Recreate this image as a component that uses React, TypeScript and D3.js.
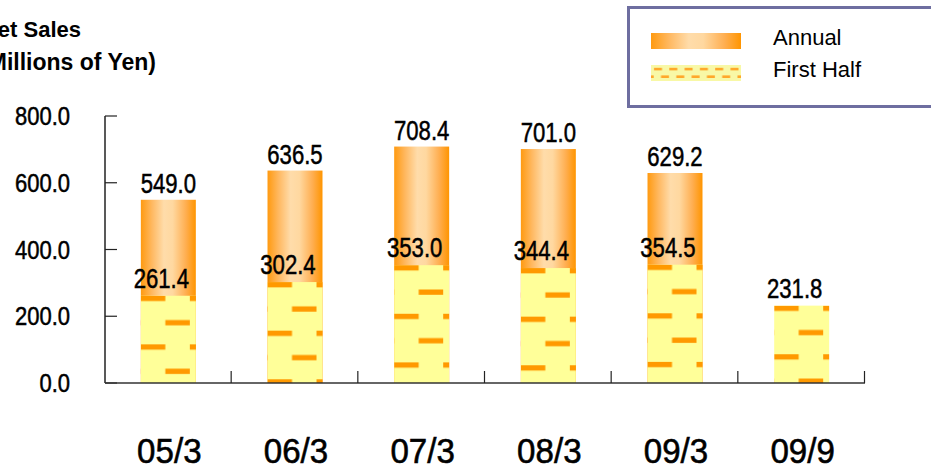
import React from "react";
import * as d3 from "d3";

const categories = ["05/3", "06/3", "07/3", "08/3", "09/3", "09/9"];
const annual: (number | null)[] = [549.0, 636.5, 708.4, 701.0, 629.2, null];
const firstHalf = [261.4, 302.4, 353.0, 344.4, 354.5, 231.8];
const yTicks = [0, 200, 400, 600, 800];
const titleLines = ["Net Sales", "(Millions of Yen)"];
const legendLabels = ["Annual", "First Half"];

const W = 931;
const H = 473;
const SANS = "Liberation Sans, Arial, Helvetica, sans-serif";

export default function App() {
  const y = d3.scaleLinear().domain([0, 800]).range([383, 116]);
  const x = d3
    .scaleBand<string>()
    .domain(categories)
    .range([105, 865])
    .paddingInner(0.566)
    .paddingOuter(0.283);
  const bw = x.bandwidth();
  const step = x.step();
  const fmt = d3.format(".1f");

  return (
    <svg
      width={W}
      height={H}
      style={{ position: "absolute", left: 0, top: 0, display: "block", background: "#fff" }}
      fontFamily={SANS}
    >
      <defs>
        <linearGradient id="annualGrad" x1="0" x2="1" y1="0" y2="0">
          <stop offset="0%" stopColor="#FF9A10" />
          <stop offset="20%" stopColor="#FFB860" />
          <stop offset="42%" stopColor="#FFDCAA" />
          <stop offset="58%" stopColor="#FFD8A0" />
          <stop offset="82%" stopColor="#FFAE50" />
          <stop offset="100%" stopColor="#FF9500" />
        </linearGradient>
        {firstHalf.map((v, i) => (
          <pattern
            key={i}
            id={`fh-${i}`}
            patternUnits="userSpaceOnUse"
            x={x(categories[i])!}
            y={y(v)}
            width={49}
            height={48.6}
          >
            <rect x={0} y={0} width={49} height={48.6} fill="#FFFF99" />
            <rect x={0} y={0} width={24.5} height={5.3} fill="#FF9900" />
            <rect x={24.5} y={24.3} width={24.5} height={5.3} fill="#FF9900" />
          </pattern>
        ))}
        <pattern id="legendFH" patternUnits="userSpaceOnUse" x={651} y={65} width={15.3} height={16}>
          <rect x={0} y={0} width={15.3} height={16} fill="#F8F8A6" />
          <rect x={3} y={2.8} width={8} height={2.6} fill="#FFA82A" />
          <rect x={10} y={10.4} width={8} height={2.6} fill="#FFA82A" />
          <rect x={-5.3} y={10.4} width={8} height={2.6} fill="#FFA82A" />
        </pattern>
      </defs>

      {/* Title */}
      <g fontWeight="bold" fill="#000">
        <text x={81} y={37} textAnchor="end" fontSize={22}>{titleLines[0]}</text>
        <text x={156} y={70} textAnchor="end" fontSize={23}>{titleLines[1]}</text>
      </g>

      {/* Legend */}
      <rect x={628.5} y={7.5} width={330} height={99} fill="#fff" stroke="#6E6EA0" strokeWidth={3} />
      <rect x={651} y={33} width={90} height={16} fill="url(#annualGrad)" />
      <rect x={651} y={65} width={90} height={16} fill="url(#legendFH)" />
      <g fontSize={22} fill="#000">
        <text x={773} y={45}>{legendLabels[0]}</text>
        <text x={773} y={77}>{legendLabels[1]}</text>
      </g>

      {/* Bars */}
      {annual.map((v, i) =>
        v == null ? null : (
          <rect
            key={`a-${i}`}
            x={x(categories[i])!}
            y={y(v)}
            width={bw}
            height={y(0) - y(v)}
            fill="url(#annualGrad)"
          />
        )
      )}
      {firstHalf.map((v, i) => (
        <rect
          key={`f-${i}`}
          x={x(categories[i])!}
          y={y(v)}
          width={bw}
          height={y(0) - y(v)}
          fill={`url(#fh-${i})`}
        />
      ))}

      {/* Axes */}
      <line x1={105} x2={105} y1={y(800)} y2={y(0)} stroke="#222" strokeWidth={1.5} />
      {yTicks.map((t) => (
        <line key={`yt-${t}`} x1={105} x2={117} y1={y(t)} y2={y(t)} stroke="#222" strokeWidth={1.2} />
      ))}
      <line x1={105} x2={865} y1={y(0)} y2={y(0)} stroke="#333" strokeWidth={1.6} />
      {categories.map((c, i) => {
        const bx = 105 + step * (i + 1) - 0.5;
        return <line key={`xt-${c}`} x1={bx} x2={bx} y1={y(0)} y2={y(0) - 12} stroke="#222" strokeWidth={1.2} />;
      })}

      {/* Y tick labels */}
      <g fontSize={25} fill="#000" stroke="#000" strokeWidth={0.5}>
        {yTicks.map((t) => (
          <text key={`yl-${t}`} transform={`translate(70,${y(t) + 9}) scale(0.88,1)`} textAnchor="end">
            {fmt(t)}
          </text>
        ))}
      </g>

      {/* X labels */}
      <g fontSize={36} fill="#000" stroke="#000" strokeWidth={0.6}>
        {categories.map((c) => (
          <text
            key={`xl-${c}`}
            transform={`translate(${x(c)! + bw / 2 + 1},463) scale(0.92,1)`}
            textAnchor="middle"
          >
            {c}
          </text>
        ))}
      </g>

      {/* Value labels */}
      <g fontSize={27} fill="#000" stroke="#000" strokeWidth={0.5}>
        {annual.map((v, i) =>
          v == null ? null : (
            <text
              key={`av-${i}`}
              transform={`translate(${x(categories[i])! + bw / 2},${y(v) - 7}) scale(0.82,1)`}
              textAnchor="middle"
            >
              {fmt(v)}
            </text>
          )
        )}
        {firstHalf.map((v, i) => (
          <text
            key={`fv-${i}`}
            transform={`translate(${x(categories[i])! + bw / 2 - 7},${y(v) - 8}) scale(0.82,1)`}
            textAnchor="middle"
          >
            {fmt(v)}
          </text>
        ))}
      </g>
    </svg>
  );
}
